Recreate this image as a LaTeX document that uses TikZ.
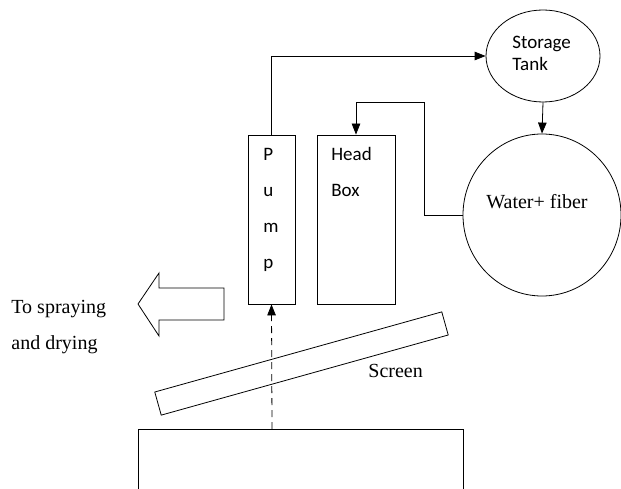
\documentclass[tikz,border=0pt]{standalone}
\usepackage{fontspec}
\setmainfont{Liberation Serif}
\newfontfamily\calib{Carlito}
\usetikzlibrary{arrows.meta,shapes.geometric}
\begin{document}
\begin{tikzpicture}[x=1pt,y=-1pt,
  line width=0.8pt,
  box/.style={draw, line width=0.8pt, inner sep=0pt},
  arr/.style={-{Triangle[length=11pt,width=8.5pt]}},
  sanslbl/.style={font=\calib\fontsize{19}{22}\selectfont, anchor=base west, inner sep=0pt},
  seriflbl/.style={font=\fontsize{20}{24}\selectfont, anchor=base west, inner sep=0pt}]
\useasboundingbox (0,0) rectangle (621,489);
% boxes
\node[box, minimum width=47pt, minimum height=169pt] (pump) at (271.5,219.5) {};
\node[box, minimum width=78pt, minimum height=169pt] (headbox) at (356,219.5) {};
\node[box, ellipse, minimum width=114pt, minimum height=92pt] (tank) at (543,56) {};
\node[box, ellipse, minimum width=158pt, minimum height=162pt] (water) at (542,215) {};
\node[box, minimum width=298pt, minimum height=24pt, rotate=15.6] (screen) at (301.5,363.5) {};
\coordinate (bl) at (138,429);
\coordinate (br) at (463,429);
\draw (138,492) -- (bl) -- (br) -- (463,492);
\coordinate (bottomtop) at (272,429);
% labels
\node[sanslbl] (lP) at (263,161) {P};
\node[sanslbl] (lu) at (263,197) {u};
\node[sanslbl] (lm) at (263,233) {m};
\node[sanslbl] (lp) at (263,269) {p};
\node[sanslbl] (lhead) at (331,161) {Head};
\node[sanslbl] (lbox) at (331,197) {Box};
\node[sanslbl] (lstor) at (512,49) {Storage};
\node[sanslbl] (ltank) at (512,71) {Tank};
\node[seriflbl, anchor=base] (lwater) at (537,208) {Water+ fiber};
\node[seriflbl] (lscreen) at (368,377) {Screen};
\node[seriflbl] (lto) at (11,313) {To spraying};
\node[seriflbl] (land) at (11,349) {and drying};
% hollow arrow
\draw (138,304) -- (159,273) -- (159,288) -- (224,288) -- (224,320) -- (159,320) -- (159,336) -- cycle;
% connectors
\draw[arr] (pump.north) |- (tank.west);
\draw[arr] (tank.south) -- (water.north);
\coordinate (fb) at (424,102);
\draw[arr] (water.west) -| (fb) -| (headbox.north);
\draw[arr, dashed, dash pattern=on 7pt off 5pt] (bottomtop) -- (pump.south);
\end{tikzpicture}
\end{document}
